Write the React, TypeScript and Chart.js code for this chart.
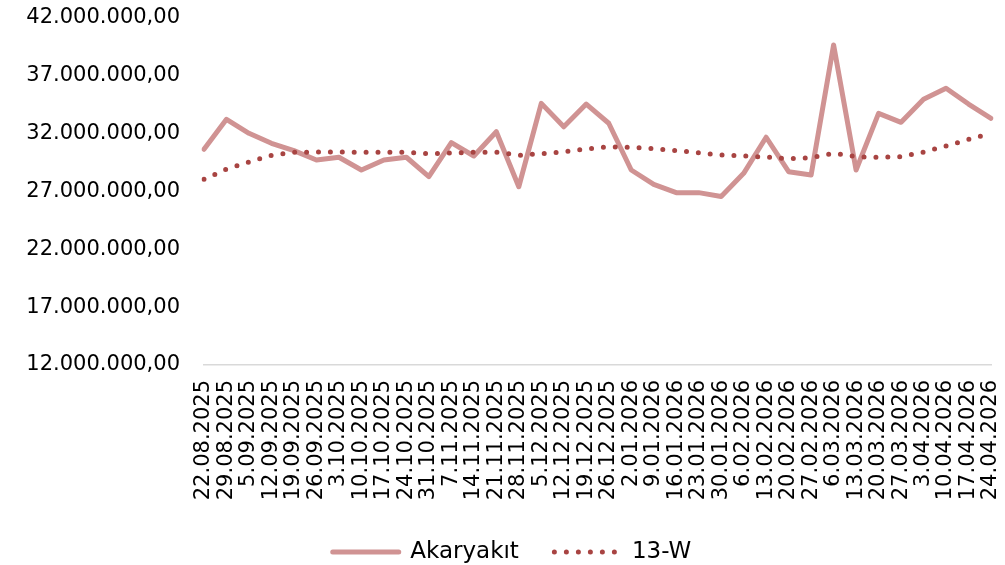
import React, { useEffect, useRef } from "react";
import { Chart, registerables } from "chart.js";

Chart.register(...registerables);

const categories: string[] = [
  "22.08.2025", "29.08.2025", "5.09.2025", "12.09.2025", "19.09.2025", "26.09.2025",
  "3.10.2025", "10.10.2025", "17.10.2025", "24.10.2025", "31.10.2025", "7.11.2025",
  "14.11.2025", "21.11.2025", "28.11.2025", "5.12.2025", "12.12.2025", "19.12.2025",
  "26.12.2025", "2.01.2026", "9.01.2026", "16.01.2026", "23.01.2026", "30.01.2026",
  "6.02.2026", "13.02.2026", "20.02.2026", "27.02.2026", "6.03.2026", "13.03.2026",
  "20.03.2026", "27.03.2026", "3.04.2026", "10.04.2026", "17.04.2026", "24.04.2026",
];

const akaryakit: number[] = [
  30650000, 33240000, 32030000, 31170000, 30530000, 29720000,
  29960000, 28860000, 29720000, 29960000, 28280000, 31220000,
  30070000, 32170000, 27410000, 34620000, 32600000, 34560000,
  32900000, 28860000, 27620000, 26900000, 26900000, 26570000,
  28570000, 31690000, 28710000, 28430000, 39670000, 28860000,
  33760000, 32980000, 34970000, 35920000, 34560000, 33330000,
];

const w13: number[] = [
  28050000, 28940000, 29550000, 30130000, 30390000, 30410000,
  30410000, 30390000, 30390000, 30390000, 30270000, 30330000,
  30390000, 30410000, 30130000, 30270000, 30440000, 30670000,
  30870000, 30820000, 30700000, 30530000, 30350000, 30160000,
  30070000, 29980000, 29840000, 29920000, 30300000, 30010000,
  29960000, 30010000, 30410000, 30930000, 31510000, 32030000,
];

const seriesNames: string[] = ["Akaryakıt", "13-W"];
const yMin = 12000000;
const yMax = 42000000;
const yStep = 5000000;

const LINE_COLOR = "#D09393";
const DOT_COLOR = "#A84442";
const FONT = "'DejaVu Sans', sans-serif";
const LEGEND_SHIFT = 16.5;

function fmtTR(v: number): string {
  const neg = v < 0;
  const intPart = Math.round(Math.abs(v)).toString();
  const withDots = intPart.replace(/\B(?=(\d{3})+(?!\d))/g, ".");
  return (neg ? "-" : "") + withDots + ",00";
}

const shiftLegend = {
  id: "shiftLegend",
  afterLayout(chart: any) {
    if (chart.legend) {
      chart.legend.left += LEGEND_SHIFT;
      chart.legend.right += LEGEND_SHIFT;
    }
  },
};

export default function App() {
  const ref = useRef<HTMLCanvasElement | null>(null);

  useEffect(() => {
    if (!ref.current) return;
    const chart = new Chart(ref.current, {
      type: "line",
      data: {
        labels: categories,
        datasets: [
          {
            label: seriesNames[0],
            data: akaryakit,
            borderColor: LINE_COLOR,
            backgroundColor: LINE_COLOR,
            borderWidth: 5,
            pointRadius: 0,
            pointHoverRadius: 0,
            tension: 0,
            borderJoinStyle: "round",
            borderCapStyle: "round",
            order: 1,
          },
          {
            label: seriesNames[1],
            data: w13,
            borderColor: DOT_COLOR,
            backgroundColor: DOT_COLOR,
            borderWidth: 5,
            borderDash: [0, 11.9],
            borderCapStyle: "round",
            pointRadius: 0,
            pointHoverRadius: 0,
            tension: 0,
            order: 0,
          },
        ],
      },
      plugins: [shiftLegend],
      options: {
        animation: false,
        responsive: false,
        events: [],
        layout: { autoPadding: false, padding: { top: 18, right: 14, left: 0, bottom: -8.5 } },
        scales: {
          x: {
            offset: false,
            grid: { display: false, drawTicks: false },
            border: { display: true, color: "#D9D9D9", width: 1.5 },
            ticks: {
              autoSkip: false,
              minRotation: 90,
              maxRotation: 90,
              padding: 15,
              color: "#000",
              font: { family: FONT, size: 21 },
            },
            afterFit: (scale: any) => {
              scale.height = 140;
              scale.paddingLeft = 0;
              scale.paddingRight = 0;
            },
          },
          y: {
            min: yMin,
            max: yMax,
            grid: { display: false, drawTicks: false },
            border: { display: false },
            ticks: {
              stepSize: yStep,
              padding: 24,
              color: "#000",
              font: { family: FONT, size: 21 },
              callback: (v: any) => fmtTR(Number(v)),
            },
            afterFit: (scale: any) => {
              scale.width = 204;
              scale.paddingTop = 0;
              scale.paddingBottom = 0;
            },
          },
        },
        plugins: {
          tooltip: { enabled: false },
          legend: {
            position: "bottom",
            labels: {
              usePointStyle: true,
              pointStyleWidth: 66,
              padding: 35.5,
              color: "#000",
              font: { family: FONT, size: 23 },
              generateLabels: (ch: any) =>
                ch.data.datasets.map((ds: any, i: number) => ({
                  text: ds.label,
                  fillStyle: ds.borderColor,
                  strokeStyle: ds.borderColor,
                  lineWidth: 5,
                  lineDash: i === 1 ? [0, 12] : [],
                  lineDashOffset: 0,
                  lineCap: "round",
                  lineJoin: "round",
                  pointStyle: "line",
                  hidden: false,
                  datasetIndex: i,
                  fontColor: "#000",
                })),
            },
          },
        },
      },
    } as any);
    return () => chart.destroy();
  }, []);

  return (
    <div style={{ position: "absolute", left: 0, top: 0, width: 1005, height: 565, background: "#fff" }}>
      <canvas ref={ref} width={1005} height={565} style={{ width: 1005, height: 565 }} />
    </div>
  );
}
